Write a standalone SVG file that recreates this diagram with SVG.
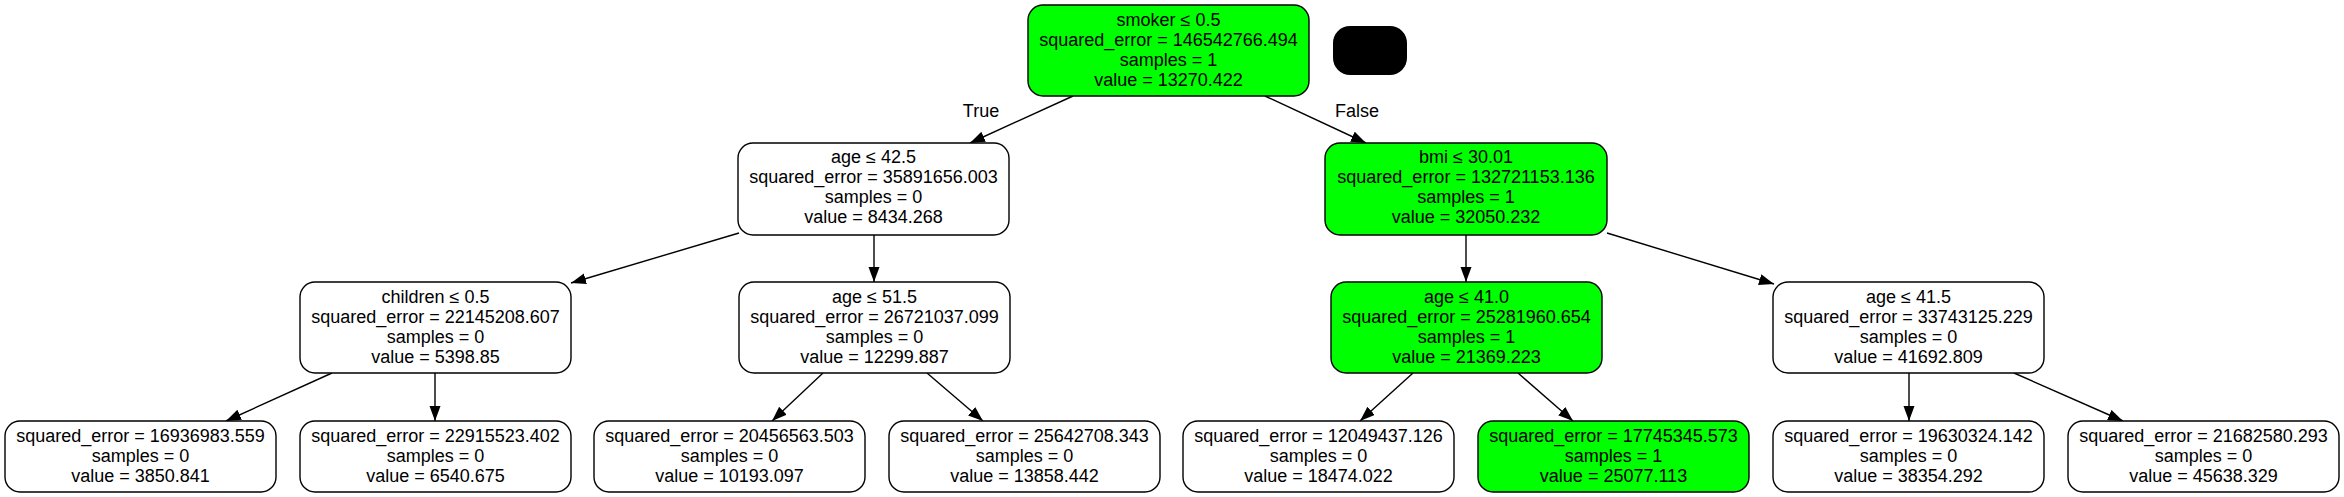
<svg xmlns="http://www.w3.org/2000/svg" width="2344" height="497" viewBox="0 0 2344 497">
<defs>
<marker id="arr" markerUnits="userSpaceOnUse" markerWidth="16" markerHeight="12" refX="15" refY="5.5" orient="auto">
<path d="M0,0 L15,5.5 L0,11 z" fill="#000"/>
</marker>
</defs>
<style>
.n{fill:#fff;stroke:#000;stroke-width:1.4}
.g{fill:#00ff00}
text{font-family:"Liberation Sans",Arial,Helvetica,sans-serif;font-size:18px;fill:#000;text-anchor:middle}
.e{fill:none;stroke:#000;stroke-width:1.4;marker-end:url(#arr)}
</style>
<rect width="2344" height="497" fill="#fff"/>
<g id="edges">
<path class="e" d="M1073,96 L970,143"/>
<path class="e" d="M1265,96 L1366,143"/>
<path class="e" d="M739,233 L571,283"/>
<path class="e" d="M874,235 L874,282"/>
<path class="e" d="M1466,235 L1466,282"/>
<path class="e" d="M1607,233 L1774,284"/>
<path class="e" d="M332,373 L226,421"/>
<path class="e" d="M435,373 L435,421"/>
<path class="e" d="M823,373 L772,421"/>
<path class="e" d="M927,373 L983,421"/>
<path class="e" d="M1413,373 L1360,421"/>
<path class="e" d="M1518,373 L1573,421"/>
<path class="e" d="M1909,373 L1909,421"/>
<path class="e" d="M2014,373 L2123,421"/>
<text x="981" y="117">True</text>
<text x="1357" y="117">False</text>
</g>
<g id="legend"><rect x="1333" y="26" width="74" height="49" rx="17" fill="#000"/></g>
<g id="n0"><rect class="n g" x="1028" y="5" width="281" height="91" rx="15"/>
<text x="1168.5" y="26">smoker ≤ 0.5</text><text x="1168.5" y="46">squared_error = 146542766.494</text><text x="1168.5" y="66">samples = 1</text><text x="1168.5" y="86">value = 13270.422</text></g>
<g id="n1"><rect class="n" x="738" y="143" width="271" height="92" rx="15"/>
<text x="873.5" y="163">age ≤ 42.5</text><text x="873.5" y="183">squared_error = 35891656.003</text><text x="873.5" y="203">samples = 0</text><text x="873.5" y="223">value = 8434.268</text></g>
<g id="n8"><rect class="n g" x="1325" y="143" width="282" height="92" rx="15"/>
<text x="1466" y="163">bmi ≤ 30.01</text><text x="1466" y="183">squared_error = 132721153.136</text><text x="1466" y="203">samples = 1</text><text x="1466" y="223">value = 32050.232</text></g>
<g id="n2"><rect class="n" x="300" y="282" width="271" height="91" rx="15"/>
<text x="435.5" y="303">children ≤ 0.5</text><text x="435.5" y="323">squared_error = 22145208.607</text><text x="435.5" y="343">samples = 0</text><text x="435.5" y="363">value = 5398.85</text></g>
<g id="n5"><rect class="n" x="739" y="282" width="271" height="91" rx="15"/>
<text x="874.5" y="303">age ≤ 51.5</text><text x="874.5" y="323">squared_error = 26721037.099</text><text x="874.5" y="343">samples = 0</text><text x="874.5" y="363">value = 12299.887</text></g>
<g id="n9"><rect class="n g" x="1331" y="282" width="271" height="91" rx="15"/>
<text x="1466.5" y="303">age ≤ 41.0</text><text x="1466.5" y="323">squared_error = 25281960.654</text><text x="1466.5" y="343">samples = 1</text><text x="1466.5" y="363">value = 21369.223</text></g>
<g id="n12"><rect class="n" x="1773" y="282" width="271" height="91" rx="15"/>
<text x="1908.5" y="303">age ≤ 41.5</text><text x="1908.5" y="323">squared_error = 33743125.229</text><text x="1908.5" y="343">samples = 0</text><text x="1908.5" y="363">value = 41692.809</text></g>
<g id="n3"><rect class="n" x="5" y="421" width="271" height="71" rx="15"/>
<text x="140.5" y="442">squared_error = 16936983.559</text><text x="140.5" y="462">samples = 0</text><text x="140.5" y="482">value = 3850.841</text></g>
<g id="n4"><rect class="n" x="300" y="421" width="271" height="71" rx="15"/>
<text x="435.5" y="442">squared_error = 22915523.402</text><text x="435.5" y="462">samples = 0</text><text x="435.5" y="482">value = 6540.675</text></g>
<g id="n6"><rect class="n" x="594" y="421" width="271" height="71" rx="15"/>
<text x="729.5" y="442">squared_error = 20456563.503</text><text x="729.5" y="462">samples = 0</text><text x="729.5" y="482">value = 10193.097</text></g>
<g id="n7"><rect class="n" x="889" y="421" width="271" height="71" rx="15"/>
<text x="1024.5" y="442">squared_error = 25642708.343</text><text x="1024.5" y="462">samples = 0</text><text x="1024.5" y="482">value = 13858.442</text></g>
<g id="n10"><rect class="n" x="1183" y="421" width="271" height="71" rx="15"/>
<text x="1318.5" y="442">squared_error = 12049437.126</text><text x="1318.5" y="462">samples = 0</text><text x="1318.5" y="482">value = 18474.022</text></g>
<g id="n11"><rect class="n g" x="1478" y="421" width="271" height="71" rx="15"/>
<text x="1613.5" y="442">squared_error = 17745345.573</text><text x="1613.5" y="462">samples = 1</text><text x="1613.5" y="482">value = 25077.113</text></g>
<g id="n13"><rect class="n" x="1773" y="421" width="271" height="71" rx="15"/>
<text x="1908.5" y="442">squared_error = 19630324.142</text><text x="1908.5" y="462">samples = 0</text><text x="1908.5" y="482">value = 38354.292</text></g>
<g id="n14"><rect class="n" x="2068" y="421" width="271" height="71" rx="15"/>
<text x="2203.5" y="442">squared_error = 21682580.293</text><text x="2203.5" y="462">samples = 0</text><text x="2203.5" y="482">value = 45638.329</text></g>
</svg>
